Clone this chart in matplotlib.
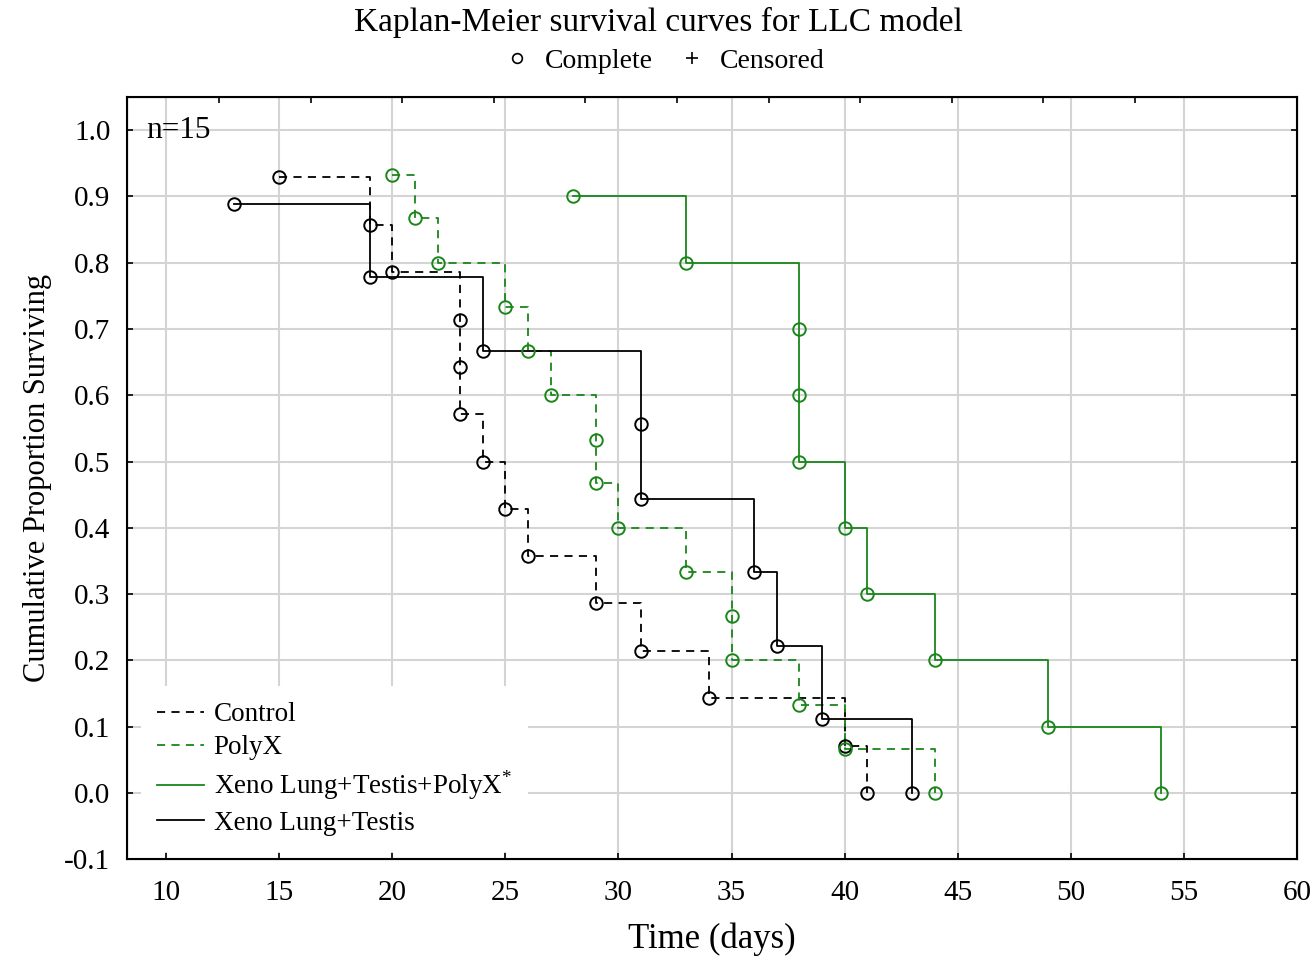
import numpy as np
import matplotlib
matplotlib.use('Agg')
import matplotlib.pyplot as plt
from matplotlib.lines import Line2D

plt.rcParams['font.family'] = ['Liberation Serif', 'DejaVu Serif']
plt.rcParams['mathtext.fontset'] = 'custom'
plt.rcParams['mathtext.rm'] = 'Liberation Serif'

# survival data
control_t = [15, 19, 20, 23, 23, 23, 24, 25, 26, 29, 31, 34, 40, 41]
control_s = [0.929, 0.857, 0.786, 0.714, 0.643, 0.571, 0.5, 0.429, 0.357, 0.286, 0.214, 0.143, 0.071, 0.0]

polyx_t = [20, 21, 22, 25, 26, 27, 29, 29, 30, 33, 35, 35, 38, 40, 44]
polyx_s = [0.933, 0.867, 0.8, 0.733, 0.667, 0.6, 0.533, 0.467, 0.4, 0.333, 0.267, 0.2, 0.133, 0.067, 0.0]

xlt_polyx_t = [28, 33, 38, 38, 38, 40, 41, 44, 49, 54]
xlt_polyx_s = [0.9, 0.8, 0.7, 0.6, 0.5, 0.4, 0.3, 0.2, 0.1, 0.0]

xlt_t = [13, 19, 24, 31, 31, 36, 37, 39, 43]
xlt_s = [0.889, 0.778, 0.667, 0.556, 0.444, 0.333, 0.222, 0.111, 0.0]

labels = ['Control', 'PolyX', 'Xeno Lung+Testis+PolyX$^{*}$', 'Xeno Lung+Testis']

green = '#1a861a'
dash = (0, (4.5, 3.5))

fig = plt.figure(figsize=(13.16, 9.6), dpi=100)
ax = fig.add_axes([0.0965, 0.105, 0.889, 0.794])

series = [
    (control_t, control_s, 'black', dash),
    (polyx_t, polyx_s, green, dash),
    (xlt_polyx_t, xlt_polyx_s, green, '-'),
    (xlt_t, xlt_s, 'black', '-'),
]
handles = []
for (t, s, c, ls), lab in zip(series, labels):
    ax.plot(t, s, drawstyle='steps-post', color=c, linestyle=ls, lw=1.3, zorder=3)
    ax.plot(t, s, 'o', mfc='none', mec=c, ms=9, mew=1.4, zorder=4)
    handles.append(Line2D([], [], color=c, linestyle=ls, lw=1.3, label=lab))

ax.set_xlim(8.27, 60)
ax.set_ylim(-0.1, 1.05)
ax.set_xticks(np.arange(10, 61, 5))
ax.set_yticks(np.arange(-0.1, 1.01, 0.1))
ax.set_yticklabels(['%.1f' % v for v in np.arange(-0.1, 1.01, 0.1)])
ax.grid(True, color='#d4d4d4', lw=1.5, zorder=0)
ax.tick_params(direction='in', length=4, width=1.2, labelsize=21, right=True)
ax.tick_params(axis='x', pad=15)
ax.tick_params(axis='y', pad=12)
for sp in ax.spines.values():
    sp.set_linewidth(1.5)

# top ticks of the secondary scale (no labels)
top = ax.twiny()
top.set_xlim(ax.get_xlim())
top.set_xticks(12.34 + 4.05 * np.arange(11))
top.tick_params(direction='in', length=4, width=1.2, labeltop=False)

ax.set_xlabel('Time (days)', fontsize=25, labelpad=12)
ax.set_ylabel('Cumulative Proportion Surviving', fontsize=22, labelpad=9)
ax.text(9.1, 1.0, 'n=15', fontsize=22.5, va='center', ha='left')

leg = ax.legend(handles=handles, loc='lower left', bbox_to_anchor=(0.0, -0.008),
                fontsize=19.5, frameon=True, framealpha=1, edgecolor='none',
                handlelength=1.75, handletextpad=0.35, labelspacing=0.3,
                borderpad=0.6, fancybox=False)
leg.set_zorder(5)

fig.text(0.5, 0.977, 'Kaplan-Meier survival curves for LLC model',
         ha='center', va='center', fontsize=24)
mk = [Line2D([], [], marker='o', ls='none', mfc='none', mec='black', ms=7, mew=1.2, label='Complete'),
      Line2D([], [], marker='+', ls='none', color='black', ms=9, mew=1.2, label='Censored')]
fig.legend(handles=mk, loc='center', bbox_to_anchor=(0.5055, 0.936), ncol=2,
           frameon=False, fontsize=20, handlelength=0.8, handletextpad=0.6,
           columnspacing=1.0)

fig.savefig('out.png', dpi=100)
